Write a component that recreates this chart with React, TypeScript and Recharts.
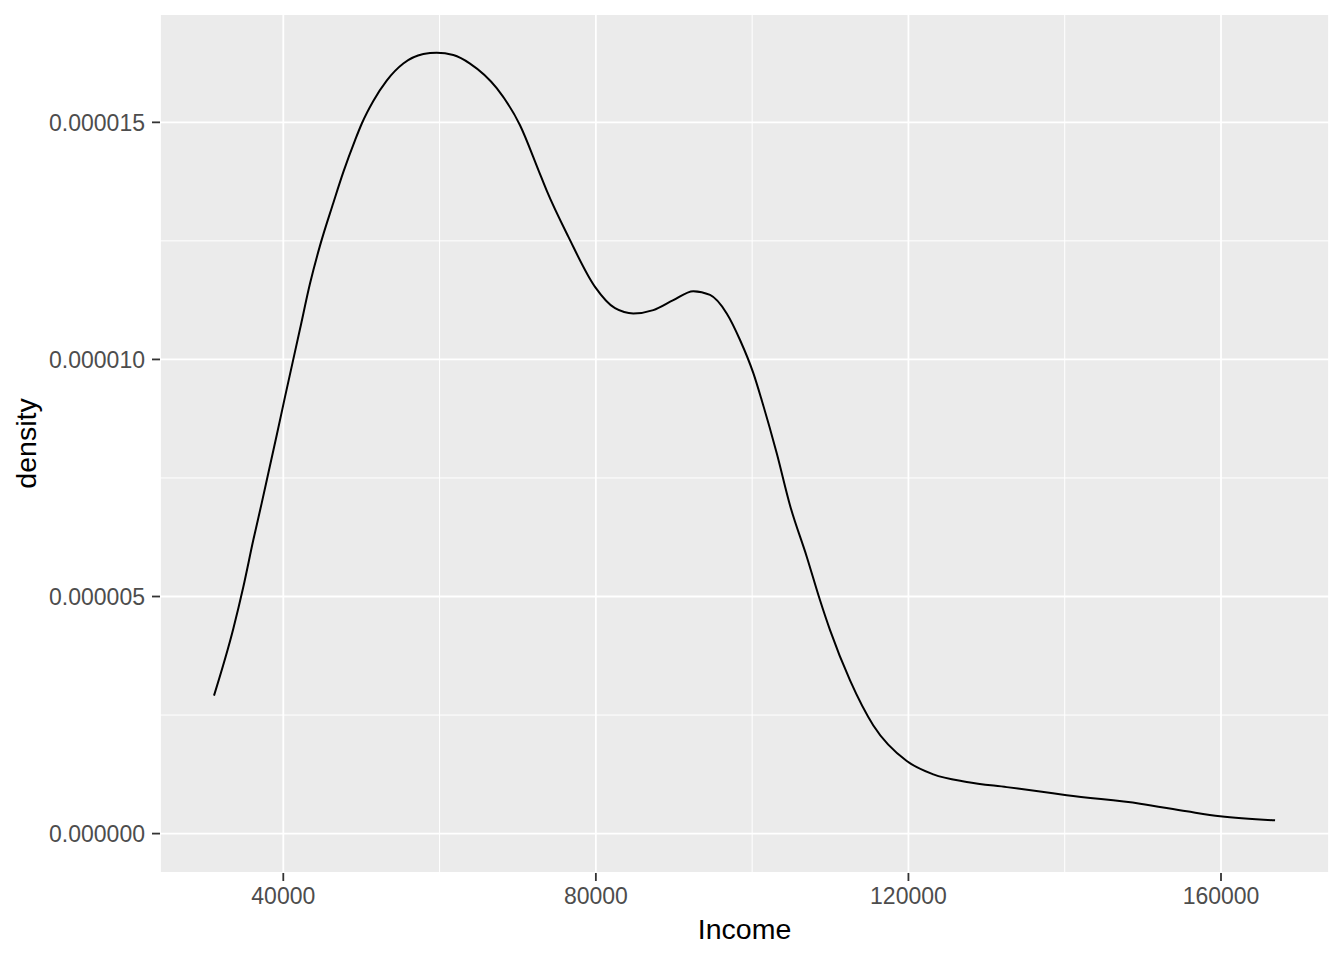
import { CartesianGrid, Line, LineChart, ReferenceLine, XAxis, YAxis } from "recharts";

// kernel density of Income
const incomeValues = [
  31131, 33601, 34881, 36161, 37236, 38080, 39155, 40218, 42137, 43417, 44697, 46399, 47679,
  49176, 50034, 51518, 53233, 55358, 57917, 59632, 61757, 63894, 67311, 70293, 72635, 73710,
  76474, 79891, 82451, 84793, 87353, 89913, 92472, 94610, 96747, 98450, 100152, 101227,
  103147, 104849, 106986, 108688, 109968, 112528, 115510, 119785, 123189, 127463, 132582,
  136844, 140261, 149643, 155619, 159880, 166919,
];
const densityValues = [
  2.91e-6, 4.32e-6, 5.2e-6, 6.19e-6, 6.97e-6, 7.6e-6, 8.4e-6, 9.21e-6, 10.64e-6, 11.6e-6,
  12.4e-6, 13.3e-6, 13.95e-6, 14.62e-6, 14.97e-6, 15.45e-6, 15.88e-6, 16.24e-6, 16.44e-6,
  16.47e-6, 16.42e-6, 16.24e-6, 15.72e-6, 14.94e-6, 14.0e-6, 13.56e-6, 12.59e-6, 11.53e-6,
  11.08e-6, 10.97e-6, 11.04e-6, 11.25e-6, 11.44e-6, 11.36e-6, 10.97e-6, 10.41e-6, 9.71e-6,
  9.14e-6, 8.02e-6, 6.92e-6, 5.84e-6, 4.92e-6, 4.29e-6, 3.23e-6, 2.28e-6, 1.53e-6, 1.25e-6,
  1.09e-6, 0.98e-6, 0.89e-6, 0.81e-6, 0.63e-6, 0.47e-6, 0.365e-6, 0.28e-6,
];

const xTicks = [40000, 80000, 120000, 160000];
const xMinor = [60000, 100000, 140000];
const yTicks = [0, 0.000005, 0.00001, 0.000015];
const yMinor = [0.0000025, 0.0000075, 0.0000125];

const data = incomeValues.map((income, i) => ({ income, density: densityValues[i] }));

const font = "'Liberation Sans', Arial, sans-serif";

function XTitle(props: any) {
  const { x, y, width, height } = props.viewBox;
  return (
    <text x={x + width / 2} y={y + height - 21} textAnchor="middle" fontSize={28.5} fill="#000" fontFamily={font}>
      Income
    </text>
  );
}

function YTitle(props: any) {
  const { y, height } = props.viewBox;
  const cx = 36;
  const cy = y + height / 2;
  return (
    <text x={cx} y={cy} transform={`rotate(-90, ${cx}, ${cy})`} textAnchor="middle" fontSize={28.5} fill="#000" fontFamily={font}>
      density
    </text>
  );
}

export default function App() {
  return (
    <div style={{ position: "absolute", left: 0, top: 0, background: "#fff" }}>
      <LineChart width={1344} height={960} data={data} margin={{ top: 14, right: 15, bottom: 0, left: 0 }}>
        <CartesianGrid fill="#EBEBEB" stroke="#FFFFFF" strokeWidth={1.8} />
        {xMinor.map((v) => (
          <ReferenceLine key={"x" + v} x={v} stroke="#FFFFFF" strokeWidth={1} />
        ))}
        {yMinor.map((v) => (
          <ReferenceLine key={"y" + v} y={v} stroke="#FFFFFF" strokeWidth={1} />
        ))}
        <XAxis
          dataKey="income"
          type="number"
          domain={[24221, 173821]}
          allowDataOverflow
          ticks={xTicks}
          height={87}
          axisLine={false}
          tickSize={8}
          tickMargin={7}
          tickLine={{ stroke: "#333333", strokeWidth: 1.8 }}
          tick={{ fill: "#4D4D4D", fontSize: 23, fontFamily: font }}
          label={<XTitle />}
        />
        <YAxis
          type="number"
          domain={[-8.31e-7, 1.7285e-5]}
          allowDataOverflow
          ticks={yTicks}
          width={160}
          axisLine={false}
          tickSize={8}
          tickMargin={7}
          tickFormatter={(v: number) => v.toFixed(6)}
          tickLine={{ stroke: "#333333", strokeWidth: 1.8 }}
          tick={{ fill: "#4D4D4D", fontSize: 23, fontFamily: font }}
          label={<YTitle />}
        />
        <Line
          dataKey="density"
          type="monotone"
          stroke="#000000"
          strokeWidth={2}
          dot={false}
          isAnimationActive={false}
        />
      </LineChart>
    </div>
  );
}
